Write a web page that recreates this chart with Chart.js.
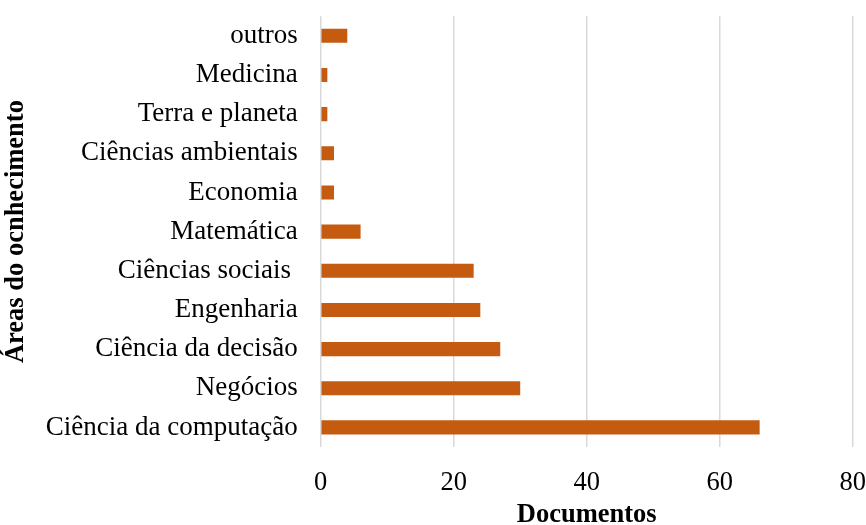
<!DOCTYPE html>
<html>
<head>
<meta charset="utf-8">
<script src="https://cdn.jsdelivr.net/npm/chart.js@4.4.1/dist/chart.umd.min.js"></script>
<style>
  html, body { margin: 0; padding: 0; background: #fff; }
  #wrap { width: 866px; height: 525px; }
</style>
</head>
<body>
<div id="wrap"><canvas id="bar-chartcanvas" width="866" height="525"></canvas></div>
<script>
// areas and document counts, top to bottom
var areas = [
  "outros",
  "Medicina",
  "Terra e planeta",
  "Ciências ambientais",
  "Economia",
  "Matemática",
  "Ciências sociais ",
  "Engenharia",
  "Ciência da decisão",
  "Negócios",
  "Ciência da computação"
];
var documentos = [4, 1, 1, 2, 2, 6, 23, 24, 27, 30, 66];
var xTicks = [0, 20, 40, 60, 80];

var serif = "'Liberation Serif', 'Times New Roman', serif";
var fsize = 26.5;

var ctx = document.getElementById("bar-chartcanvas");

// tick padding is also added to the chart area padding, so gaps come
// from invisible tick marks instead
var BarGraph = new Chart(ctx, {
  type: 'bar',
  data: {
    labels: areas,
    datasets: [{
      label: "Documentos",
      data: documentos,
      backgroundColor: "#C55A11",
      borderWidth: 0,
      barPercentage: 0.36,
      categoryPercentage: 1.0
    }]
  },
  options: {
    indexAxis: 'y',
    responsive: false,
    animation: false,
    layout: { padding: { top: 0, right: 1, bottom: -3, left: 0 } },
    plugins: {
      legend: { display: false },
      tooltip: { enabled: false }
    },
    scales: {
      x: {
        min: 0,
        max: 80,
        afterBuildTicks: function(axis) {
          axis.ticks = xTicks.map(function(v) { return { value: v }; });
        },
        grid: {
          color: "#d9d9d9",
          lineWidth: 1.5,
          drawTicks: true,
          tickLength: 23,
          tickColor: "rgba(0,0,0,0)"
        },
        border: { display: false },
        ticks: {
          color: "#000",
          padding: 0,
          font: { family: serif, size: fsize, lineHeight: 1 }
        },
        title: {
          display: true,
          text: "Documentos",
          color: "#000",
          padding: { top: 5, bottom: 0 },
          font: { family: serif, size: fsize, weight: 'bold', lineHeight: 1 }
        }
      },
      y: {
        grid: {
          color: "rgba(0,0,0,0)",
          drawOnChartArea: false,
          drawTicks: true,
          tickLength: 23,
          tickColor: "rgba(0,0,0,0)"
        },
        border: { display: false },
        ticks: {
          color: "#000",
          padding: 0,
          font: { family: serif, size: 27 }
        },
        title: {
          display: true,
          text: "Áreas do ocnhecimento",
          color: "#000",
          padding: { top: 0, bottom: 14 },
          font: { family: serif, size: fsize, weight: 'bold' }
        }
      }
    }
  }
});
</script>
</body>
</html>
